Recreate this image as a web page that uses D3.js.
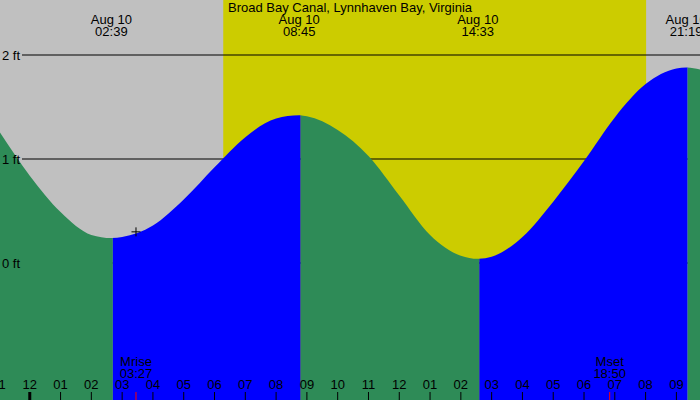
<!DOCTYPE html>
<html>
<head>
<meta charset="utf-8">
<script src="https://cdn.jsdelivr.net/npm/d3@7"></script>
<style>
  body { margin: 0; background: #fff; }
  svg text { font-family: "Liberation Sans", Arial, sans-serif; font-size: 13px; fill: #000; }
</style>
</head>
<body>
<div id="chart"></div>
<script>
const title = "Broad Bay Canal, Lynnhaven Bay, Virginia";

// hourly readings of the tide (ft), starting 23:00 on Aug 9
const readingStart = "2024-08-09 23:00";
const readingHeights = [1.27, 0.84, 0.49, 0.27, 0.25, 0.36, 0.61, 0.92, 1.21, 1.39, 1.41, 1.28,
                        1.03, 0.65, 0.27, 0.07, 0.06, 0.25, 0.59, 0.98, 1.40, 1.72, 1.87, 1.84];

// highs and lows
const extremeTimes = ["02:39", "08:45", "14:33", "21:19"];
const extremeHeights = [0.24, 1.42, 0.04, 1.88];
const extremeDates = ["Aug 10", "Aug 10", "Aug 10", "Aug 10"];

const sunTimes = ["06:17", "20:01"];          // sunrise, sunset
const moonLabels = ["Mrise", "Mset"];
const moonTimes = ["03:27", "18:50"];
const nowTime = "03:27";

const levelTicks = [0, 1, 2];
const tickLabels = ["11", "12", "01", "02", "03", "04", "05", "06", "07", "08", "09", "10",
                    "11", "12", "01", "02", "03", "04", "05", "06", "07", "08", "09"];
const domainTimes = ["2024-08-09 23:02", "2024-08-10 21:46"];

const w = 700, h = 400;
const parse = d3.timeParse("%Y-%m-%d %H:%M");
const onDay = t => parse("2024-08-10 " + t);

const x = d3.scaleTime()
  .domain(domainTimes.map(parse))
  .range([0, w]);
const y = d3.scaleLinear()
  .domain([0, 2])
  .range([263, 55]);

// merge readings and extremes into one series
let series = readingHeights.map((v, i) => ({ t: d3.timeHour.offset(parse(readingStart), i), v: v }));
extremeTimes.forEach((t, i) => series.push({ t: onDay(t), v: extremeHeights[i] }));
series.sort((a, b) => a.t - b.t);
series = series.filter((d, i) => i == 0 || +d.t != +series[i - 1].t);

const svg = d3.select("#chart").append("svg")
  .attr("width", w)
  .attr("height", h)
  .style("display", "block");

// night / day background
svg.append("rect").attr("width", w).attr("height", h).attr("fill", "#c0c0c0");
svg.append("rect")
  .attr("x", x(onDay(sunTimes[0])))
  .attr("width", x(onDay(sunTimes[1])) - x(onDay(sunTimes[0])))
  .attr("height", h)
  .attr("fill", "#cccc00");

// level lines
svg.selectAll(".level")
  .data(levelTicks)
  .enter().append("line")
  .attr("x1", 22).attr("x2", w)
  .attr("y1", d => y(d)).attr("y2", d => y(d))
  .attr("stroke", "#000");

// tide fill, green while falling, blue while rising
const area = d3.area()
  .x(d => x(d.t))
  .y0(h)
  .y1(d => y(d.v))
  .curve(d3.curveMonotoneX);

// colour changes a little after each high / low
const edges = [0].concat(extremeTimes.map(t => x(onDay(t)) + 1.5), [w]);
const defs = svg.append("defs");
for (let i = 0; i < edges.length - 1; i++) {
  // segment i ends at extreme i; falling if that extreme is a low
  const k = Math.min(i, extremeHeights.length - 1);
  const other = i < extremeHeights.length ? (k > 0 ? extremeHeights[k - 1] : extremeHeights[k + 1]) : extremeHeights[k - 1];
  const falling = i < extremeHeights.length ? extremeHeights[k] < other : extremeHeights[k] > other;
  defs.append("clipPath").attr("id", "seg" + i)
    .append("rect")
    .attr("x", edges[i])
    .attr("width", edges[i + 1] - edges[i])
    .attr("height", h);
  svg.append("path")
    .datum(series)
    .attr("clip-path", "url(#seg" + i + ")")
    .attr("fill", falling ? "#2e8b57" : "#0000ff")
    .attr("d", area);
}

svg.selectAll(".levlab")
  .data(levelTicks)
  .enter().append("text")
  .attr("x", 2)
  .attr("y", d => y(d) + 4.5)
  .text(d => d + " ft");

// current time marker
const nowY = (() => {
  const t = onDay(nowTime);
  const j = d3.bisector(d => d.t).left(series, t);
  const a = series[j - 1], b = series[j];
  return y(a.v + (b.v - a.v) * (t - a.t) / (b.t - a.t));
})();
const nx = x(onDay(nowTime));
svg.append("path")
  .attr("d", `M${nx - 4.5},${nowY}H${nx + 4.5}M${nx},${nowY - 4.5}V${nowY + 4.5}`)
  .attr("stroke", "#000")
  .attr("fill", "none");

// hour ticks
const firstTick = parse(readingStart);
const ticks = tickLabels.map((l, i) => ({ t: d3.timeHour.offset(firstTick, i), l: l }));
svg.selectAll(".tick")
  .data(ticks)
  .enter().append("line")
  .attr("x1", d => x(d.t)).attr("x2", d => x(d.t))
  .attr("y1", 392).attr("y2", h)
  .attr("stroke", "#000")
  .attr("stroke-width", d => d.t.getHours() == 0 ? 3 : 1);

svg.selectAll(".ticklab")
  .data(ticks)
  .enter().append("text")
  .attr("x", d => x(d.t))
  .attr("y", 389)
  .attr("text-anchor", "middle")
  .text(d => d.l);

// moon rise / set
moonTimes.forEach((t, i) => {
  const mx = x(onDay(t));
  svg.append("line")
    .attr("x1", mx).attr("x2", mx)
    .attr("y1", 392).attr("y2", h)
    .attr("stroke", "#ff0000");
  svg.append("text").attr("x", mx).attr("y", 366).attr("text-anchor", "middle").text(moonLabels[i]);
  svg.append("text").attr("x", mx).attr("y", 378).attr("text-anchor", "middle").text(t);
});

// high / low labels
extremeTimes.forEach((t, i) => {
  const ex = x(onDay(t));
  svg.append("text").attr("x", ex).attr("y", 24).attr("text-anchor", "middle").text(extremeDates[i]);
  svg.append("text").attr("x", ex).attr("y", 36).attr("text-anchor", "middle").text(t);
});

svg.append("text")
  .attr("x", w / 2)
  .attr("y", 12)
  .attr("text-anchor", "middle")
  .text(title);
</script>
</body>
</html>
